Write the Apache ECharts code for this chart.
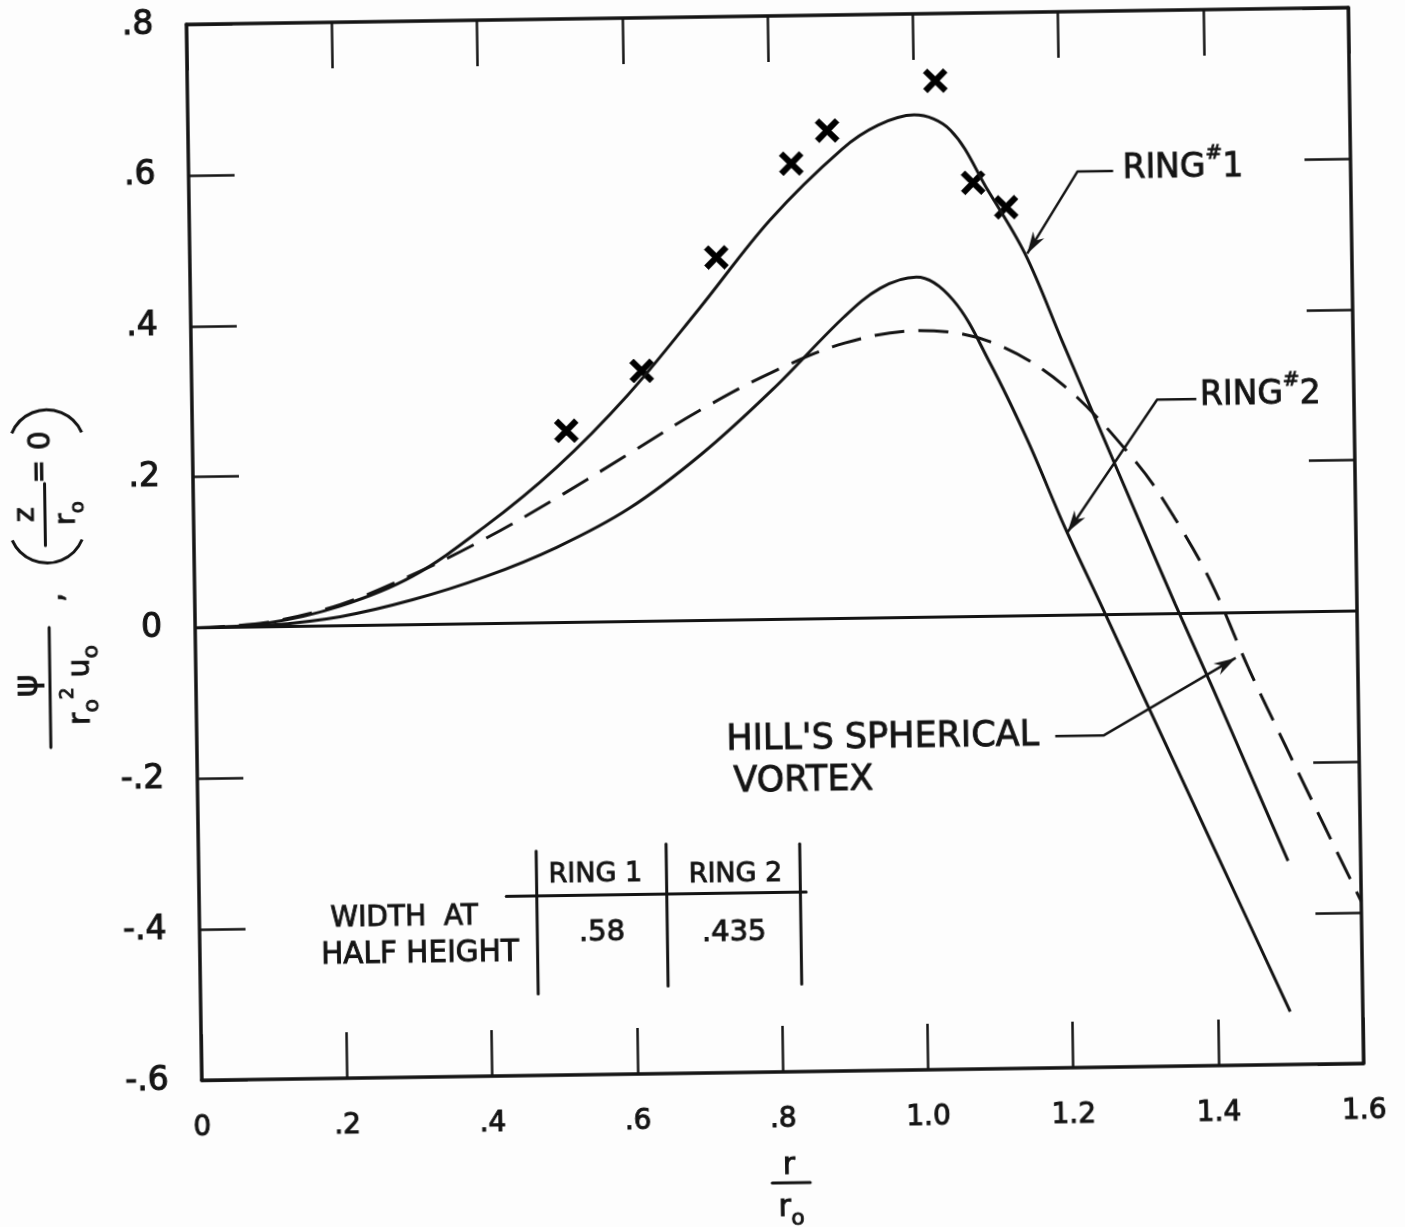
<!DOCTYPE html>
<html>
<head>
<meta charset="utf-8">
<script src="https://cdn.jsdelivr.net/npm/echarts@6/dist/echarts.min.js"></script>
<style>
  html, body { margin: 0; padding: 0; background: #fdfdfd; }
  #chart { width: 1405px; height: 1227px; transform: rotate(-0.832deg); transform-origin: 50% 50%; }
</style>
</head>
<body>
<div id="chart"></div>
<script>
// Stream function psi/(r0^2 u0) along z/r0 = 0 for two vortex rings and Hill's spherical vortex

const xTicks = [0, 0.2, 0.4, 0.6, 0.8, 1.0, 1.2, 1.4, 1.6];
const xTickLabels = ['0', '.2', '.4', '.6', '.8', '1.0', '1.2', '1.4', '1.6'];
const yTicks = [-0.6, -0.4, -0.2, 0, 0.2, 0.4, 0.6, 0.8];
const yTickLabels = ['-.6', '-.4', '-.2', '0', '.2', '.4', '.6', '.8'];

// Ring #1 (solid)
const ring1R   = [0, 0.1, 0.2, 0.3, 0.4, 0.5, 0.6, 0.7, 0.8, 0.9, 0.95, 1.0, 1.05, 1.1, 1.15, 1.2, 1.25, 1.3, 1.35, 1.4, 1.45, 1.5];
const ring1Psi = [0, 0.005, 0.026, 0.064, 0.128, 0.205, 0.300, 0.413, 0.530, 0.622, 0.653, 0.666, 0.645, 0.565, 0.480, 0.362, 0.245, 0.128, 0.012, -0.100, -0.215, -0.330];

// Ring #2 (solid)
const ring2R   = [0, 0.1, 0.2, 0.3, 0.4, 0.5, 0.6, 0.7, 0.8, 0.9, 0.95, 1.0, 1.05, 1.1, 1.15, 1.2, 1.25, 1.3, 1.4, 1.5];
const ring2Psi = [0, 0.002, 0.012, 0.033, 0.062, 0.100, 0.150, 0.220, 0.305, 0.400, 0.437, 0.451, 0.420, 0.335, 0.232, 0.115, 0.008, -0.100, -0.315, -0.530];

// Hill's spherical vortex (dashed)
const hillR   = [0, 0.1, 0.2, 0.3, 0.4, 0.5, 0.6, 0.7, 0.8, 0.9, 1.0, 1.1, 1.2, 1.3, 1.35, 1.4, 1.45, 1.5, 1.55, 1.6];
const hillPsi = [0, 0.006, 0.028, 0.066, 0.112, 0.165, 0.222, 0.279, 0.328, 0.365, 0.380, 0.364, 0.305, 0.200, 0.128, 0.040, -0.075, -0.180, -0.283, -0.385];

// Measured points (crosses)
const measuredR   = [0.515, 0.62, 0.725, 0.83, 0.88, 1.03, 1.08, 1.125];
const measuredPsi = [0.254, 0.332, 0.481, 0.604, 0.647, 0.711, 0.575, 0.542];

// Width at half height table
const tableColumns = ['RING 1', 'RING 2'];
const tableRowName = ['WIDTH  AT', 'HALF HEIGHT'];
const halfWidths = ['.58', '.435'];

const INK = '#141414';
const FONT = '"DejaVu Sans", "Liberation Sans", sans-serif';
// stroke around glyphs to give the lettering its heavier pen weight
const PEN = { stroke: INK, lineWidth: 0.9 };

const pairs = (xs, ys) => xs.map((x, i) => [x, ys[i]]);
const tickFormatter = (ticks, labels) => v => {
  const i = ticks.findIndex(t => Math.abs(t - v) < 1e-6);
  return i >= 0 ? labels[i] : '';
};

const crossPath = 'path://M17,0 L50,33 L83,0 L100,17 L67,50 L100,83 L83,100 L50,67 L17,100 L0,83 L33,50 L0,17 Z';

function axisBase(extra) {
  return Object.assign({
    type: 'value',
    axisLine: { show: true, onZero: false, lineStyle: { color: INK, width: 3.5 } },
    axisTick: { show: true, inside: true, length: 46, lineStyle: { color: INK, width: 2.5 } },
    splitLine: { show: false },
    axisLabel: { show: false }
  }, extra);
}

const chart = echarts.init(document.getElementById('chart'), null, { renderer: 'canvas' });

chart.setOption({
  backgroundColor: 'transparent',
  animation: false,
  grid: { left: 195, top: 16, width: 1162, height: 1057, containLabel: false },
  xAxis: [
    axisBase({
      position: 'bottom', min: 0, max: 1.6, interval: 0.2,
      axisLabel: {
        show: true, margin: 34, color: INK, fontFamily: FONT, fontSize: 28,
        textBorderColor: INK, textBorderWidth: 1,
        showMinLabel: true, showMaxLabel: true,
        formatter: tickFormatter(xTicks, xTickLabels)
      }
    }),
    axisBase({ position: 'top', min: 0, max: 1.6, interval: 0.2 })
  ],
  yAxis: [
    axisBase({
      position: 'left', min: -0.6, max: 0.8, interval: 0.2,
      axisLabel: {
        show: true, margin: 33, color: INK, fontFamily: FONT, fontSize: 33,
        textBorderColor: INK, textBorderWidth: 1.1,
        showMinLabel: true, showMaxLabel: true, padding: [10, 0, 0, 0],
        formatter: tickFormatter(yTicks, yTickLabels)
      }
    }),
    axisBase({ position: 'right', min: -0.6, max: 0.8, interval: 0.2 })
  ],
  series: [
    {
      name: 'RING #1', type: 'line', data: pairs(ring1R, ring1Psi),
      smooth: 0.35, showSymbol: false, silent: true,
      lineStyle: { color: INK, width: 3 },
      markLine: {
        silent: true, symbol: 'none', label: { show: false },
        lineStyle: { color: INK, width: 3, type: 'solid' },
        data: [{ yAxis: 0 }]
      }
    },
    {
      name: 'RING #2', type: 'line', data: pairs(ring2R, ring2Psi),
      smooth: 0.35, showSymbol: false, silent: true,
      lineStyle: { color: INK, width: 3 }
    },
    {
      name: "HILL'S SPHERICAL VORTEX", type: 'line', data: pairs(hillR, hillPsi),
      smooth: 0.35, showSymbol: false, silent: true,
      lineStyle: { color: INK, width: 3, type: [30, 14] }
    },
    {
      name: 'measured', type: 'scatter', data: pairs(measuredR, measuredPsi),
      symbol: crossPath, symbolSize: 24, silent: true,
      itemStyle: { color: '#000', borderColor: '#000', borderWidth: 0.6, opacity: 1 }
    }
  ]
});

// ---- annotations ----
const P = pt => chart.convertToPixel({ xAxisIndex: 0, yAxisIndex: 0 }, pt);

function seg(a, b, w) {
  return { type: 'line', silent: true, shape: { x1: a[0], y1: a[1], x2: b[0], y2: b[1] },
           style: { stroke: INK, lineWidth: w || 2.5, lineCap: 'round' } };
}
function poly(pts, w) {
  return { type: 'polyline', silent: true, shape: { points: pts },
           style: { stroke: INK, fill: null, lineWidth: w || 2.5, lineJoin: 'round' } };
}
function head(from, to, L, W) {
  const dx = to[0] - from[0], dy = to[1] - from[1];
  const len = Math.hypot(dx, dy);
  const ux = dx / len, uy = dy / len, nx = -uy, ny = ux;
  const bx = to[0] - ux * L, by = to[1] - uy * L;
  return { type: 'polygon', silent: true,
           shape: { points: [to, [bx + nx * W, by + ny * W], [to[0] - ux * L * 0.7, to[1] - uy * L * 0.7], [bx - nx * W, by - ny * W]] },
           style: { fill: INK } };
}
function label(str, pos, size, align, extra) {
  return Object.assign({
    type: 'text', silent: true, x: pos[0], y: pos[1],
    style: Object.assign({
      text: str, fill: INK, fontFamily: FONT, fontSize: size,
      align: align || 'center', verticalAlign: 'middle'
    }, PEN, (extra && extra.style) || {})
  }, extra && extra.rotation !== undefined ? { rotation: extra.rotation } : {});
}
const scriptRich = size => ({
  m: Object.assign({ fontFamily: FONT, fontSize: size, fill: INK, lineHeight: size * 1.5, verticalAlign: 'middle' }, PEN),
  s: Object.assign({ fontFamily: FONT, fontSize: Math.round(size * 0.72), fill: INK, lineHeight: size * 1.5, verticalAlign: 'bottom' }, PEN),
  p: Object.assign({ fontFamily: FONT, fontSize: Math.round(size * 0.62), fill: INK, lineHeight: size * 1.5, verticalAlign: 'top' }, PEN)
});

const g = [];

// RING #1 callout
{
  const tip = P([1.153, 0.48]), elbow = P([1.224, 0.588]), lead = P([1.273, 0.588]);
  g.push(poly([lead, elbow, tip]));
  g.push(head(elbow, tip, 22, 6.5));
  g.push(label('{m|RING}{p|#}{m|1}', P([1.286, 0.59]), 33, 'left', { style: { rich: scriptRich(33) } }));
}
// RING #2 callout
{
  const tip = P([1.203, 0.11]), elbow = P([1.329, 0.284]), lead = P([1.383, 0.284]);
  g.push(poly([lead, elbow, tip]));
  g.push(head(elbow, tip, 22, 6.5));
  g.push(label('{m|RING}{p|#}{m|2}', P([1.388, 0.288]), 33, 'left', { style: { rich: scriptRich(33) } }));
}
// Hill's spherical vortex callout
{
  const tip = P([1.432, -0.06]), elbow = P([1.249, -0.16]), lead = P([1.182, -0.16]);
  g.push(poly([lead, elbow, tip]));
  g.push(head(elbow, tip, 22, 6.5));
  g.push(label("HILL'S SPHERICAL", P([0.729, -0.160]), 35, 'left'));
  g.push(label('VORTEX', P([0.738, -0.216]), 35, 'left'));
}
// Table
{
  g.push(seg(P([0.423, -0.362]), P([0.836, -0.362]), 3));
  g.push(seg(P([0.465, -0.3026]), P([0.465, -0.492]), 3));
  g.push(seg(P([0.644, -0.2956]), P([0.644, -0.484]), 3));
  g.push(seg(P([0.828, -0.298]), P([0.828, -0.484]), 3));
  g.push(label(tableColumns[0], P([0.546, -0.335]), 27));
  g.push(label(tableColumns[1], P([0.739, -0.337]), 27));
  g.push(label(tableRowName[0], P([0.282, -0.389]), 28));
  g.push(label(tableRowName[1], P([0.303, -0.437]), 29.5));
  g.push(label(halfWidths[0], P([0.554, -0.412]), 29));
  g.push(label(halfWidths[1], P([0.736, -0.415]), 29));
}
// x axis title: r / r_o
{
  g.push(label('r', [781, 1167], 30));
  g.push(seg([764, 1184], [802, 1184], 3));
  g.push(label('{m|r}{s|o}', [783, 1209], 30, 'center', { style: { rich: scriptRich(30) } }));
}
// y axis title: psi / (r_o^2 u_o) , (z / r_o = 0), written bottom to top
{
  const up = Math.PI / 2;
  g.push(label('\u03c8', [27, 676], 34, 'center', { rotation: up }));
  g.push(seg([49, 618], [49, 738], 3));
  g.push(label('{m|r}{s|o}{p|2}{m| u}{s|o}', [80, 676], 30, 'center', { rotation: up, style: { rich: scriptRich(30) } }));
  g.push(label(',', [54, 588], 30, 'center', { rotation: up }));
  g.push({ type: 'arc', silent: true, shape: { cx: 48.3, cy: 515.5, r: 38, startAngle: 0.405, endAngle: 2.737, clockwise: true },
           style: { stroke: INK, fill: null, lineWidth: 3 } });
  g.push({ type: 'arc', silent: true, shape: { cx: 49.4, cy: 438.3, r: 38, startAngle: 3.547, endAngle: 5.878, clockwise: true },
           style: { stroke: INK, fill: null, lineWidth: 3 } });
  g.push(label('z', [28, 505], 28, 'center', { rotation: up }));
  g.push(seg([46.5, 474], [46.5, 536], 3));
  g.push(label('{m|r}{s|o}', [69, 504], 28, 'center', { rotation: up, style: { rich: scriptRich(28) } }));
  g.push(label('=', [43, 462], 28, 'center', { rotation: up }));
  g.push(label('0', [44, 431], 30, 'center', { rotation: up }));
}

chart.setOption({ graphic: g });
</script>
</body>
</html>
